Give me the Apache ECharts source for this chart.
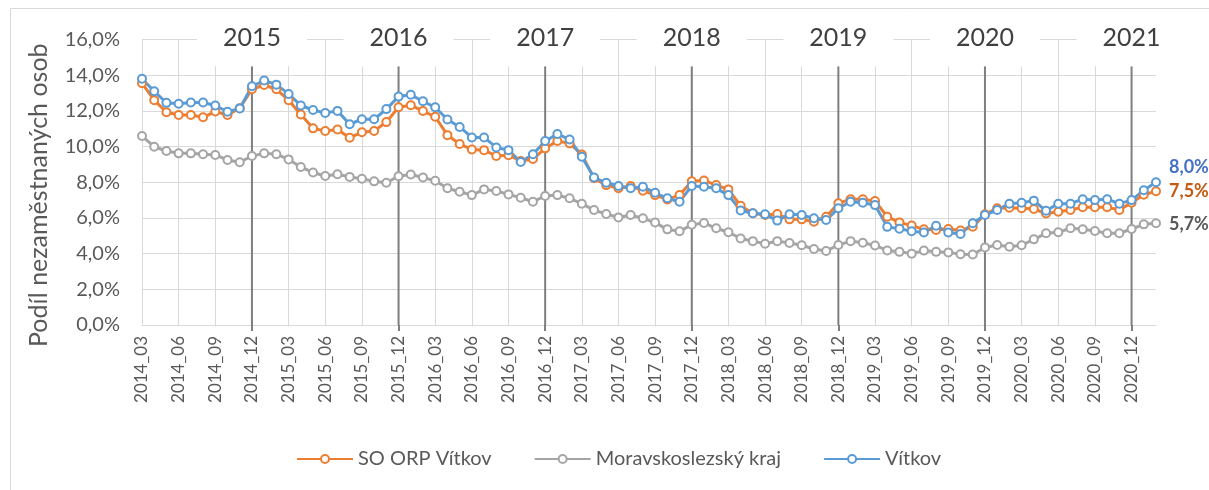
<!DOCTYPE html>
<html>
<head>
<meta charset="utf-8">
<script src="https://cdn.jsdelivr.net/npm/echarts@6/dist/echarts.min.js"></script>
<style>
  html, body { margin: 0; padding: 0; background: #fff; }
  #chart { width: 1209px; height: 490px; }
</style>
</head>
<body>
<div id="chart"></div>
<script>
// měsíce 2014_03 .. 2021_02
const startYear = 2014
const startMonth = 3
const monthCount = 84
const months = []
for (let k = 0; k < monthCount; k++) {
  const m = startMonth - 1 + k
  const y = startYear + Math.floor(m / 12)
  const mm = (m % 12) + 1
  months.push(y + '_' + (mm < 10 ? '0' + mm : mm))
}

// hranice roků (prosinec předchozího roku) a popisky
const yearMarks = ['2014_12', '2015_12', '2016_12', '2017_12', '2018_12', '2019_12', '2020_12']
const yearLabels = ['2015', '2016', '2017', '2018', '2019', '2020', '2021']

const yTicks = [0, 2, 4, 6, 8, 10, 12, 14, 16]

const soOrpVitkov = [
  13.55, 12.6, 11.92, 11.77, 11.77, 11.64, 11.96, 11.77, 12.15, 13.21, 13.45, 13.21,
  12.6, 11.8, 11.02, 10.87, 10.96, 10.5, 10.8, 10.87, 11.37, 12.2, 12.32, 11.99,
  11.67, 10.64, 10.14, 9.84, 9.8, 9.47, 9.52, 9.19, 9.3, 9.9, 10.31, 10.18,
  9.56, 8.22, 7.84, 7.66, 7.79, 7.53, 7.28, 7.04, 7.28, 8.05, 8.1, 7.84,
  7.6, 6.68, 6.26, 6.16, 6.22, 5.92, 5.92, 5.79, 6.07, 6.82, 7.05, 7.05,
  6.95, 6.07, 5.75, 5.57, 5.36, 5.32, 5.38, 5.29, 5.51, 6.2, 6.54, 6.57,
  6.54, 6.5, 6.25, 6.35, 6.45, 6.6, 6.6, 6.6, 6.45, 6.85, 7.3, 7.5
]

const msKraj = [
  10.59, 9.99, 9.75, 9.62, 9.62, 9.57, 9.53, 9.25, 9.12, 9.47, 9.62, 9.57,
  9.28, 8.85, 8.55, 8.35, 8.45, 8.3, 8.2, 8.05, 7.97, 8.34, 8.43, 8.27,
  8.08, 7.66, 7.47, 7.28, 7.6, 7.51, 7.32, 7.13, 6.91, 7.23, 7.28, 7.1,
  6.8, 6.44, 6.22, 6.03, 6.16, 5.98, 5.74, 5.36, 5.25, 5.62, 5.72, 5.42,
  5.2, 4.85, 4.7, 4.55, 4.7, 4.6, 4.47, 4.26, 4.15, 4.48, 4.7, 4.61,
  4.46, 4.18, 4.1, 4.0, 4.17, 4.1, 4.07, 3.96, 3.95, 4.34, 4.48, 4.39,
  4.47, 4.8, 5.14, 5.2, 5.42, 5.36, 5.27, 5.14, 5.14, 5.38, 5.64, 5.7
]

const vitkov = [
  13.8, 13.1, 12.45, 12.4, 12.47, 12.47, 12.3, 11.95, 12.14, 13.38, 13.7, 13.47,
  12.95, 12.3, 12.05, 11.88, 12.0, 11.25, 11.53, 11.53, 12.1, 12.8, 12.9, 12.54,
  12.2, 11.52, 11.1, 10.51, 10.51, 9.95, 9.8, 9.13, 9.57, 10.31, 10.7, 10.4,
  9.43, 8.27, 7.97, 7.79, 7.66, 7.75, 7.41, 7.1, 6.91, 7.79, 7.75, 7.66,
  7.28, 6.42, 6.26, 6.2, 5.85, 6.2, 6.16, 5.98, 5.88, 6.54, 6.91, 6.85,
  6.72, 5.5, 5.4, 5.25, 5.19, 5.56, 5.19, 5.1, 5.7, 6.16, 6.44, 6.8,
  6.85, 6.97, 6.4, 6.8, 6.8, 7.05, 7.0, 7.05, 6.8, 7.0, 7.55, 8.0
]

const FONT = 'Lato, "Open Sans", sans-serif'
const TEXT = '#595959'
const GRID = '#d9d9d9'

function pct(v) {
  return v.toFixed(1).replace('.', ',') + '%'
}

// poslední bod s popiskem
function withEndLabel(values, color, offset) {
  const last = values.length - 1
  return values.map((v, i) => i === last ? {
    value: v,
    label: {
      show: true,
      position: 'right',
      distance: 8,
      offset: offset,
      formatter: p => pct(p.value),
      color: color,
      fontFamily: FONT,
      fontSize: 18,
      fontWeight: 'bold'
    }
  } : v)
}

function lineSeries(name, values, color, labelColor, offset) {
  return {
    name: name,
    type: 'line',
    data: withEndLabel(values, labelColor, offset),
    symbol: 'emptyCircle',
    symbolSize: 8,
    showAllSymbol: true,
    lineStyle: { color: color, width: 3 },
    itemStyle: { color: color, borderWidth: 2 },
    z: 3
  }
}

const chart = echarts.init(document.getElementById('chart'))

chart.setOption({
  animation: false,
  textStyle: { fontFamily: FONT },
  graphic: [{
    type: 'rect',
    shape: { x: 10.5, y: 8.5, width: 1300, height: 600 },
    style: { fill: 'none', stroke: GRID, lineWidth: 1 },
    silent: true
  }],
  grid: { left: 142, right: 53, top: 39.5, bottom: 165 },
  legend: {
    left: 291,
    top: 444,
    itemWidth: 56,
    itemHeight: 10,
    itemGap: 42,
    data: ['SO ORP Vítkov', 'Moravskoslezský kraj', 'Vítkov'],
    textStyle: { color: TEXT, fontSize: 20, fontFamily: FONT }
  },
  xAxis: {
    type: 'category',
    data: months,
    boundaryGap: false,
    axisLine: { lineStyle: { color: GRID, width: 1 } },
    // tmavé přesahy pod osou u prosinců
    axisTick: {
      show: true,
      interval: (idx, val) => yearMarks.indexOf(val) >= 0,
      length: 6,
      lineStyle: { color: '#7f7f7f', width: 2 }
    },
    axisLabel: {
      interval: 2,
      rotate: 90,
      margin: 11,
      color: TEXT,
      fontSize: 17,
      fontFamily: FONT
    },
    splitLine: { show: true, interval: 2, lineStyle: { color: GRID, width: 1 } }
  },
  yAxis: {
    type: 'value',
    min: yTicks[0],
    max: yTicks[yTicks.length - 1],
    interval: 2,
    name: 'Podíl nezaměstnaných osob',
    nameLocation: 'middle',
    nameRotate: 90,
    nameGap: 91,
    nameTextStyle: { color: TEXT, fontSize: 25, fontFamily: FONT, padding: [0, 26, 0, 0] },
    axisLine: { show: false },
    axisTick: { show: false },
    axisLabel: {
      color: TEXT,
      fontSize: 20,
      fontFamily: FONT,
      margin: 22,
      formatter: v => pct(v)
    },
    splitLine: { lineStyle: { color: GRID, width: 1 } }
  },
  series: [
    {
      name: 'roky',
      type: 'bar',
      barWidth: 2,
      z: 1,
      silent: true,
      itemStyle: { color: '#7f7f7f' },
      data: months.map(m => yearMarks.indexOf(m) >= 0 ? 14.5 : null),
      label: {
        show: true,
        position: 'top',
        distance: 0,
        formatter: p => yearLabels[yearMarks.indexOf(p.name)] || '',
        backgroundColor: '#fff',
        padding: [6, 26, 14, 26],
        lineHeight: 28,
        color: '#404040',
        fontSize: 25,
        fontFamily: FONT
      }
    },
    lineSeries('SO ORP Vítkov', soOrpVitkov, '#ED7D31', '#C55A11', [0, 0]),
    lineSeries('Moravskoslezský kraj', msKraj, '#A5A5A5', '#595959', [0, 1]),
    lineSeries('Vítkov', vitkov, '#5B9BD5', '#4472C4', [0, -15])
  ]
})
</script>
</body>
</html>
